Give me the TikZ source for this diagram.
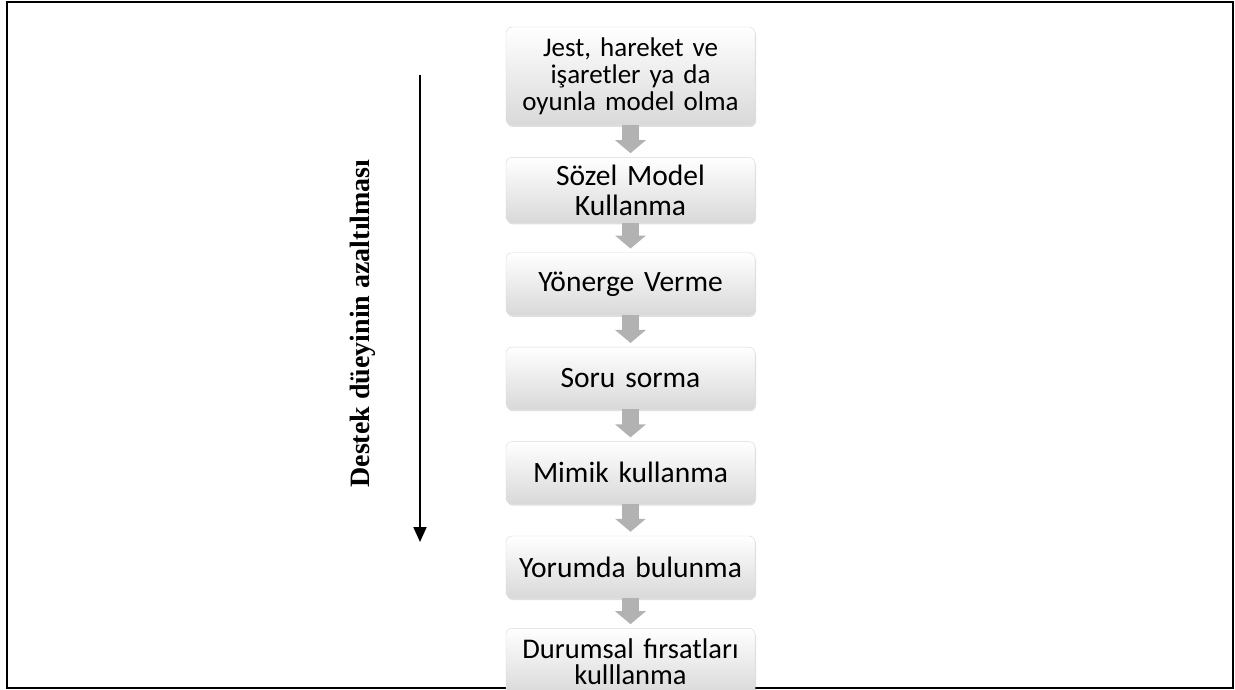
\documentclass[tikz,border=0pt]{standalone}
\usepackage{fontspec}
\setmainfont{Carlito}
\newfontfamily\labelfont{Liberation Serif}
\usetikzlibrary{positioning,arrows.meta,shadows}
\tikzstyle{stage} = [rectangle, rounded corners=6pt, draw=gray!30, top color=white, bottom color=gray!30,
  drop shadow={shadow xshift=1pt, shadow yshift=-2pt, opacity=0.25},
  minimum width=249pt, minimum height=62pt, text width=246pt, align=center, inner sep=0pt,
  font=\fontsize{29.5}{30}\selectfont]
\tikzstyle{flow}  = [line width=17pt, color=gray!60, -{Triangle[width=30pt,length=13pt]}, shorten >=4pt]

\begin{document}
\begin{tikzpicture}[x=1pt,y=1pt]
\useasboundingbox (0,0) rectangle (1235,689);
\draw[line width=2.5pt] (7,1) rectangle (1233,687);
% support levels
\node[stage, minimum height=98pt, font=\fontsize{27}{27}\selectfont] (b1) at (630.5,613)
  {Jest, hareket ve\\ işaretler ya da\\ oyunla model olma};
\node[stage, below=32pt of b1, minimum height=65pt] (b2) {Sözel Model\\ Kullanma};
\node[stage, below=30pt of b2] (b3) {Yönerge Verme};
\node[stage, below=32pt of b3] (b4) {Soru sorma};
\node[stage, below=32pt of b4] (b5) {Mimik kullanma};
\node[stage, below=32pt of b5] (b6) {Yorumda bulunma};
\node[stage, below=30pt of b6, minimum height=66pt, font=\fontsize{28.5}{26}\selectfont] (b7)
  {Durumsal fırsatları\\ kulllanma};
\foreach \a/\b in {b1/b2,b2/b3,b3/b4,b4/b5,b5/b6,b6/b7}
  \draw[flow] (\a) -- (\b);
% decreasing support
\coordinate (top) at (420,614);
\coordinate (bot) at (420,147);
\draw[line width=2pt, -{Triangle[width=13pt,length=15pt]}] (top) -- (bot);
\node[rotate=90, font=\labelfont\bfseries\fontsize{28}{30}\selectfont] (lbl) at (363,365.5)
  {Destek düeyinin azaltılması};
\end{tikzpicture}
\end{document}
